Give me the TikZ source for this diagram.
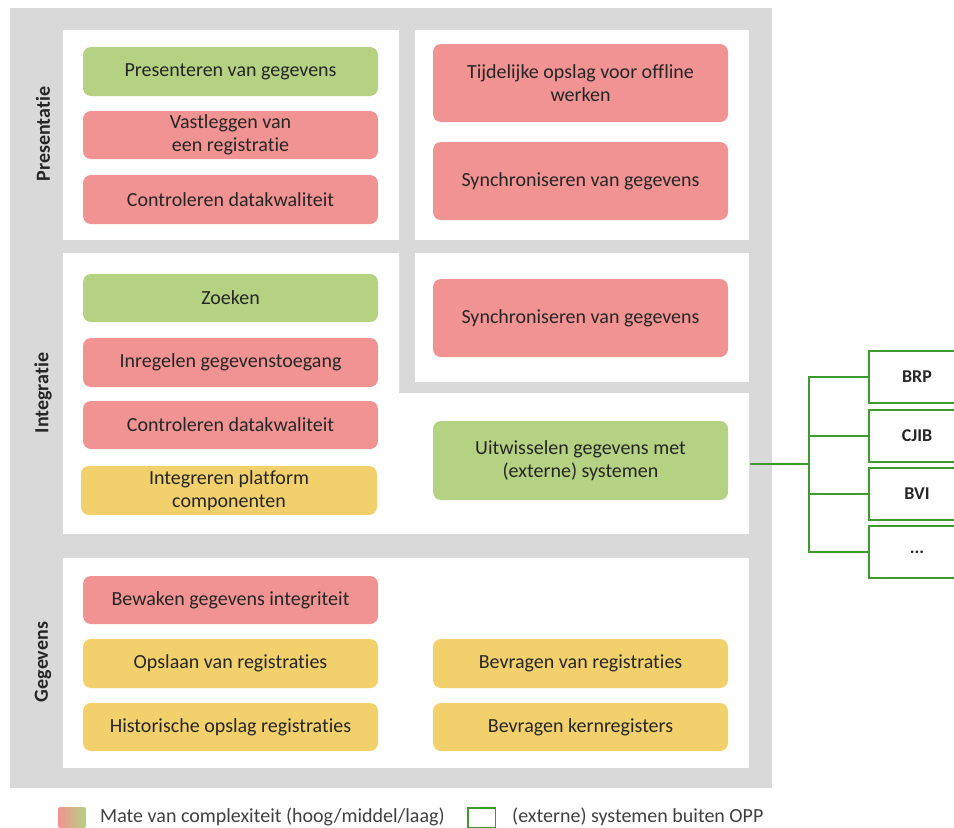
\documentclass[tikz,border=0pt]{standalone}
\usepackage{fontspec}
\setmainfont{Carlito}[Ligatures=NoCommon]
\definecolor{achtergrond}{RGB}{217,217,217}
\definecolor{laagkleur}{RGB}{181,209,130}
\definecolor{hoogkleur}{RGB}{240,147,146}
\definecolor{middelkleur}{RGB}{242,209,109}
\definecolor{systeemgroen}{RGB}{62,154,46}
\definecolor{tekstgrijs}{RGB}{64,64,64}
\tikzset{
  taak/.style={rounded corners=8pt, minimum width=295pt, minimum height=48pt,
    inner sep=0pt, align=center, text=black!85,
    font=\fontsize{20}{23}\selectfont},
  hoog/.style={taak, fill=hoogkleur},
  middel/.style={taak, fill=middelkleur},
  laag/.style={taak, fill=laagkleur},
  laag2/.style={rotate=90, font=\bfseries\fontsize{20}{23}\selectfont, text=black!85},
  systeem/.style={draw=systeemgroen, line width=1.5pt, fill=white,
    minimum width=96pt, minimum height=52pt, inner sep=0pt,
    font=\bfseries\fontsize{18}{21}\selectfont, text=black!85},
  koppeling/.style={draw=systeemgroen, line width=1.5pt},
  legenda/.style={anchor=west, inner sep=0pt, text=tekstgrijs,
    font=\fontsize{20}{23}\selectfont}
}
\begin{document}
\begin{tikzpicture}[x=1pt, y=-1pt]
    \useasboundingbox (0,0) rectangle (954,828);
    \clip (0,0) rectangle (954,828);

    % achtergrond en lagen
    \fill[achtergrond] (10,8) rectangle (772,788);
    \fill[white] (63,30) rectangle (399,240);
    \fill[white] (415,30) rectangle (749,240);
    \fill[white] (63,253) -- (399,253) -- (399,393) -- (749,393)
        -- (749,534) -- (63,534) -- cycle;
    \fill[white] (415,253) rectangle (749,382);
    \fill[white] (63,558) rectangle (749,768);

    % laagnamen
    \node[laag2] (lpres) at (43,134) {Presentatie};
    \node[laag2] (lint) at (43,393) {Integratie};
    \node[laag2] (lgeg) at (43,662) {Gegevens};

    % presentatie
    \node[laag, minimum height=49pt] (pres1) at (230.5,71.5) {Presenteren van gegevens};
    \node[hoog] (pres2) at (230.5,135) {Vastleggen van\\een registratie};
    \node[hoog, minimum height=49pt] (pres3) at (230.5,199.5) {Controleren datakwaliteit};
    \node[hoog, minimum height=78pt] (pres4) at (580.5,83) {Tijdelijke opslag voor offline\\werken};
    \node[hoog, minimum height=78pt] (pres5) at (580.5,181) {Synchroniseren van gegevens};

    % integratie
    \node[laag] (int1) at (230.5,298) {Zoeken};
    \node[hoog, minimum height=49pt] (int2) at (230.5,362.5) {Inregelen gegevenstoegang};
    \node[hoog] (int3) at (230.5,425) {Controleren datakwaliteit};
    \node[middel, minimum width=296pt, minimum height=49pt] (int4) at (229,490.5) {Integreren platform\\componenten};
    \node[hoog, minimum height=78pt] (int5) at (580.5,318) {Synchroniseren van gegevens};
    \node[laag, minimum height=79pt] (uit) at (580.5,460.5) {Uitwisselen gegevens met\\(externe) systemen};

    % gegevens
    \node[hoog] (geg1) at (230.5,600) {Bewaken gegevens integriteit};
    \node[middel, minimum height=49pt] (geg2) at (230.5,663.5) {Opslaan van registraties};
    \node[middel] (geg3) at (230.5,727) {Historische opslag registraties};
    \node[middel, minimum height=49pt] (geg4) at (580.5,663.5) {Bevragen van registraties};
    \node[middel] (geg5) at (580.5,727) {Bevragen kernregisters};

    % externe systemen
    \node[systeem] (brp) at (917,377) {BRP};
    \node[systeem] (cjib) at (917,436) {CJIB};
    \node[systeem] (bvi) at (917,494) {BVI};
    \node[systeem] (meer) at (917,552) {...};

    \coordinate (uitpoort) at (750,464);
    \coordinate (splits) at (809,464);
    \draw[koppeling, line width=2pt] (uitpoort) -- (splits);
    \draw[koppeling] (splits) |- (brp);
    \draw[koppeling] (splits) |- (cjib);
    \draw[koppeling] (splits) |- (bvi);
    \draw[koppeling] (splits) |- (meer);

    % legenda
    \shade[rounded corners=2pt, left color=hoogkleur, middle color=middelkleur,
        right color=laagkleur] (58,807) rectangle (86,828);
    \node[legenda] (lcompl) at (100,817) {Mate van complexiteit (hoog/middel/laag)};
    \draw[systeemgroen, line width=1.5pt] (467.75,807.75) rectangle (495.25,827.25);
    \node[legenda] (lext) at (512,817) {(externe) systemen buiten OPP};
\end{tikzpicture}
\end{document}
